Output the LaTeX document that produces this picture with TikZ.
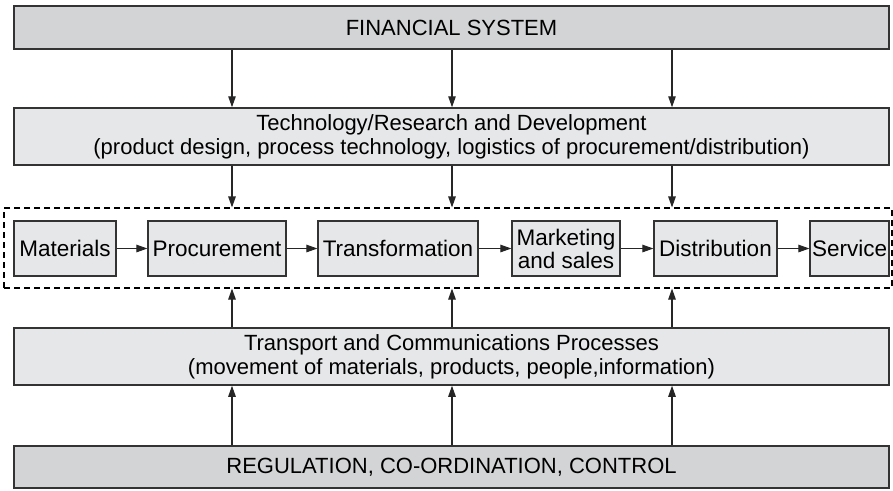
\documentclass[tikz,border=0pt]{standalone}
\usepackage{fontspec}
\setmainfont{Liberation Sans}
\usetikzlibrary{arrows.meta}
\definecolor{darkbox}{HTML}{D3D4D6}
\definecolor{lightbox}{HTML}{E6E7E9}
\definecolor{edge}{HTML}{333333}
\tikzset{
  bigbox/.style={draw=edge, line width=1.5pt, inner sep=0pt, minimum width=875pt, align=center,
    font=\fontsize{22}{24}\selectfont},
  stagebox/.style={draw=edge, line width=1.2pt, fill=lightbox, inner sep=0pt, minimum height=55pt,
    align=center, font=\fontsize{22.5}{23}\selectfont},
  arr/.style={-{Triangle[length=11pt,width=7.5pt]}, line width=1.1pt, draw=black!85}
}
\begin{document}
\begin{tikzpicture}[x=1pt,y=-1pt]
  \useasboundingbox (0,0) rectangle (893,490);
  % 上下の大きな箱
  \node[bigbox, fill=darkbox, minimum height=43pt] (fin) at (451.5,27.5) {FINANCIAL SYSTEM};
  \node[bigbox, fill=lightbox, minimum height=57pt] (tech) at (451.5,136.5)
    {Technology/Research and Development\\(product design, process technology, logistics of procurement/distribution)};
  \node[bigbox, fill=lightbox, minimum height=57pt] (tp) at (451.5,356.5)
    {Transport and Communications Processes\\(movement of materials, products, people,information)};
  \node[bigbox, fill=darkbox, minimum height=42pt] (reg) at (451.5,467) {REGULATION, CO-ORDINATION, CONTROL};

  % 点線の枠
  \node[draw, dashed, dash pattern=on 6pt off 4pt, line width=1.1pt, minimum width=888pt,
    minimum height=80pt, inner sep=0pt] (chain) at (448,248) {};

  % 価値連鎖の箱
  \node[stagebox, minimum width=102pt] (mat) at (65,248.5) {Materials};
  \node[stagebox, minimum width=138pt] (proc) at (217,248.5) {Procurement};
  \node[stagebox, minimum width=160pt] (trans) at (398,248.5) {Transformation};
  \node[stagebox, minimum width=108pt] (mkt) at (566,248.5) {Marketing\\and sales};
  \node[stagebox, minimum width=123pt] (dist) at (715.5,248.5) {Distribution};
  \node[stagebox, minimum width=79pt] (serv) at (849.5,248.5) {Service};

  \foreach \a/\b in {mat/proc, proc/trans, trans/mkt, mkt/dist, dist/serv} {
    \draw[arr] (\a) -- (\b);
  }

  % 縦の矢印
  \foreach \x [count=\i] in {232, 452, 672} {
    \coordinate (c\i) at (\x,0);
    \draw[arr] (fin.south -| c\i) -- (tech.north -| c\i);
    \draw[arr] (tech.south -| c\i) -- (chain.north -| c\i);
    \draw[arr] (tp.north -| c\i) -- (chain.south -| c\i);
    \draw[arr] (reg.north -| c\i) -- (tp.south -| c\i);
  }
\end{tikzpicture}
\end{document}
